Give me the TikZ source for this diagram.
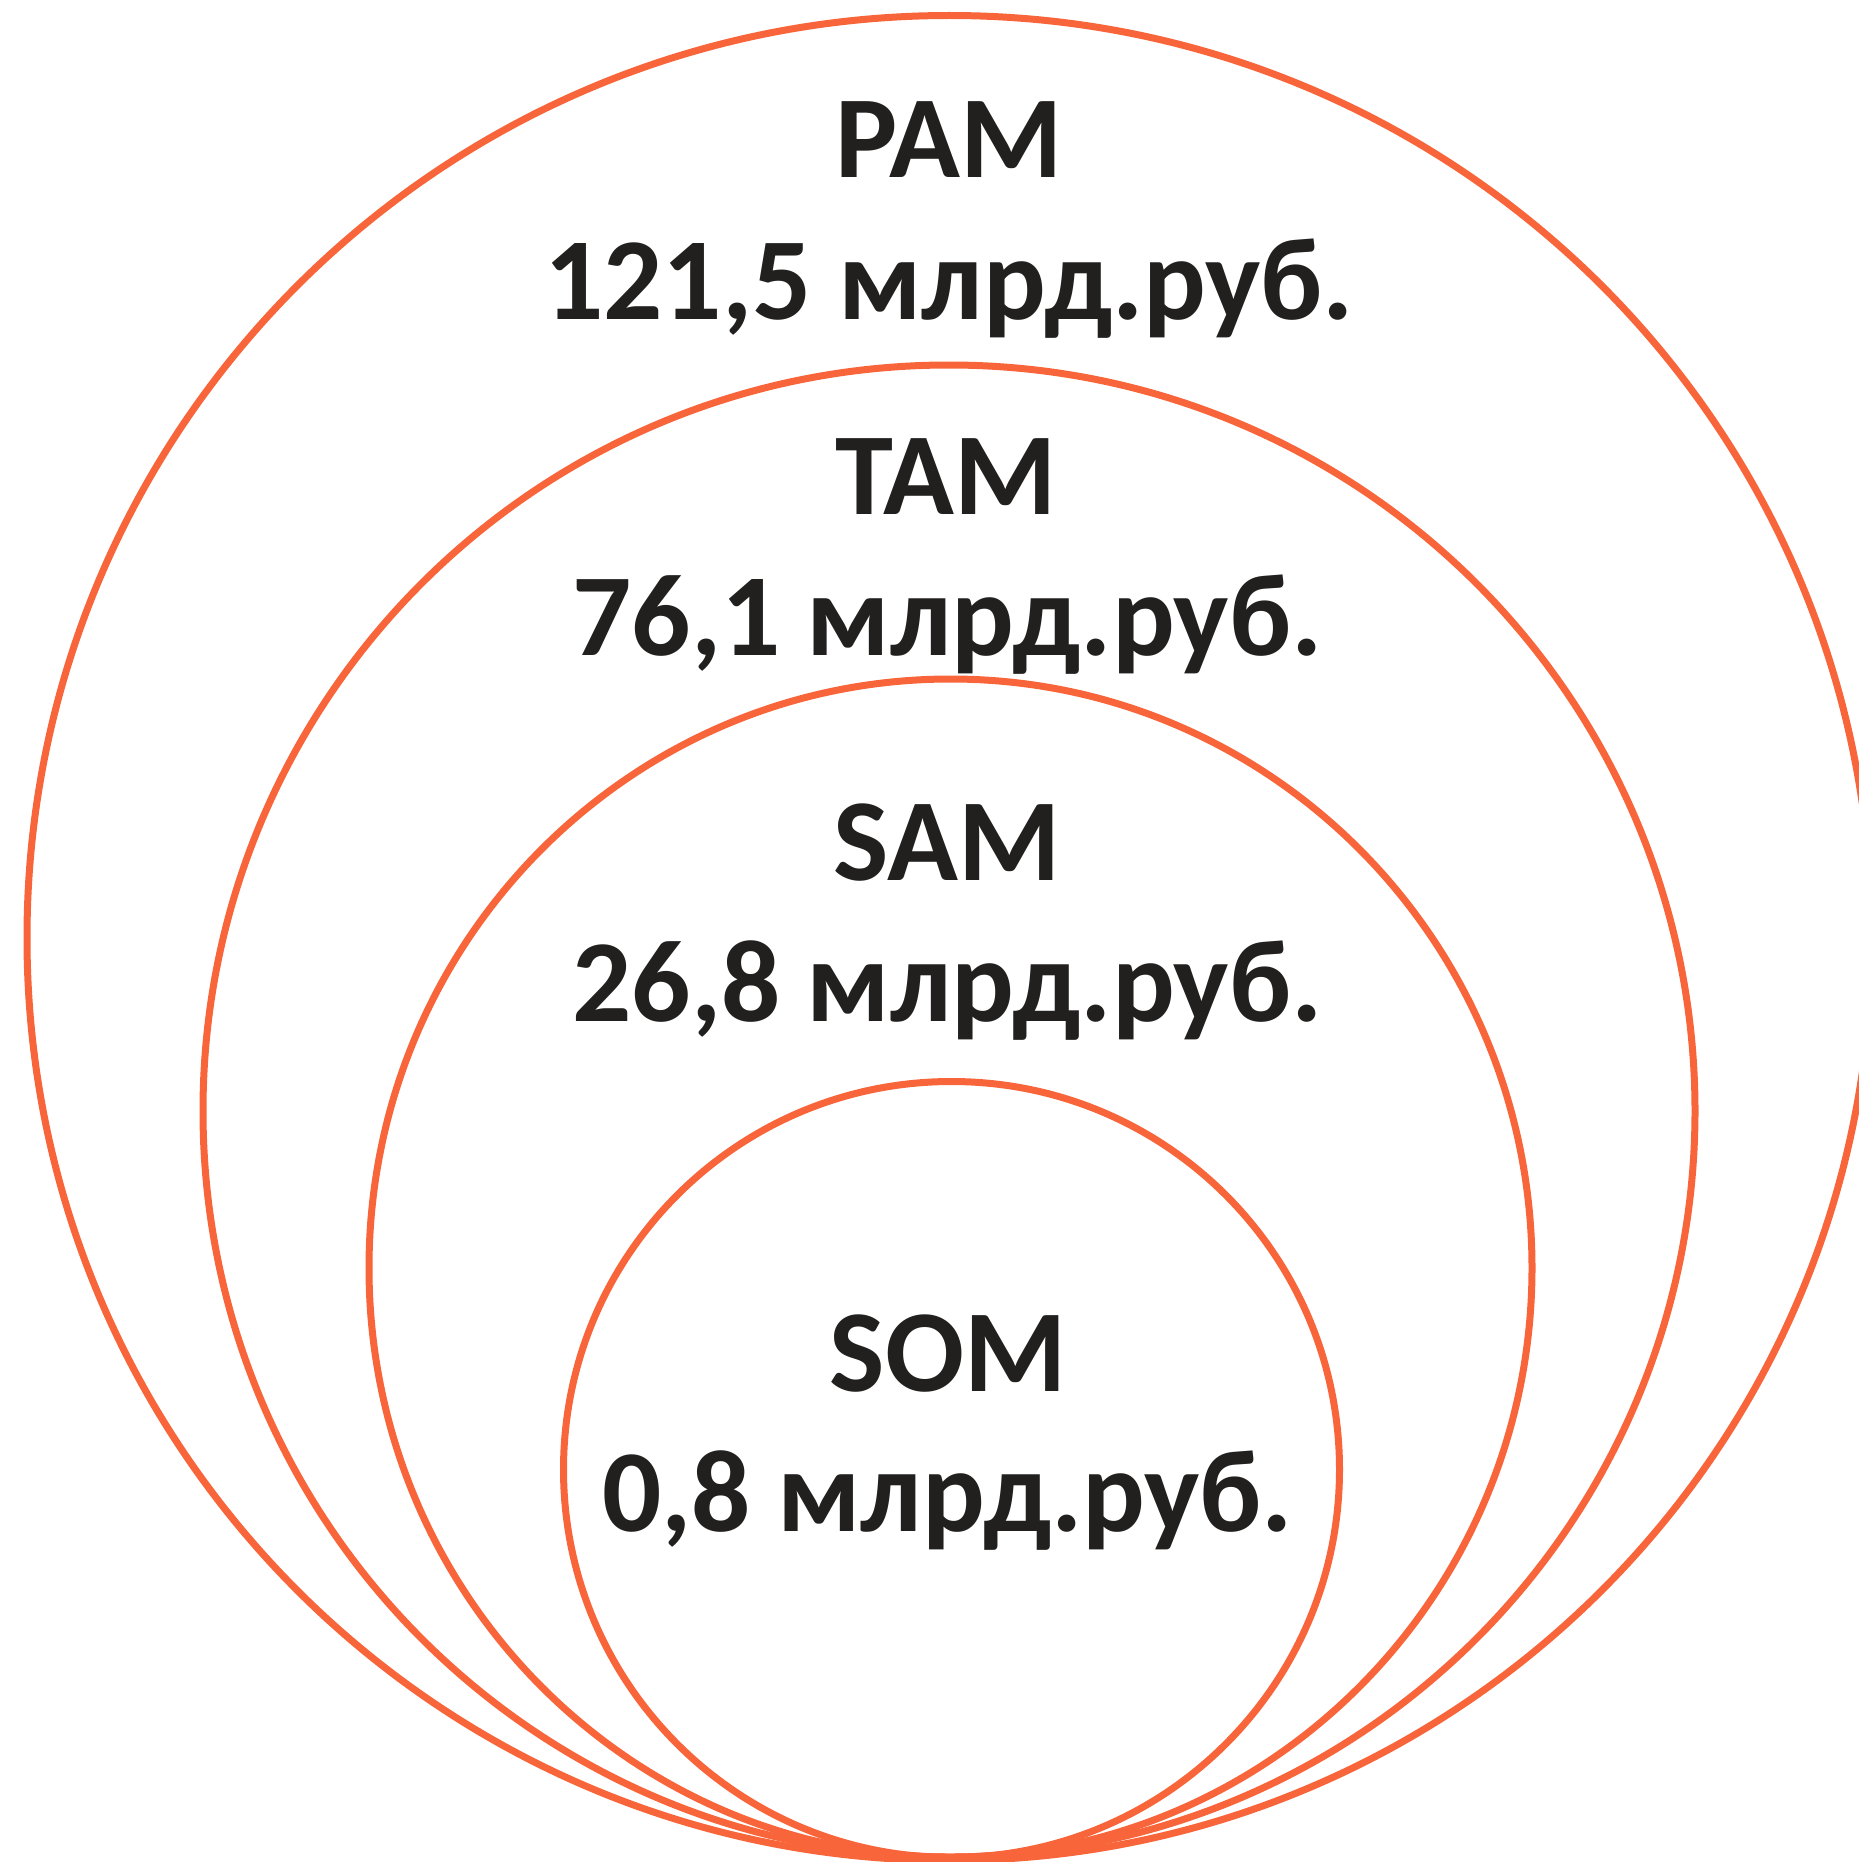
\documentclass[tikz,border=0pt]{standalone}
\usepackage{fontspec}
\setmainfont{Carlito}
\definecolor{ringorange}{RGB}{248,101,58}
\definecolor{textdark}{RGB}{34,32,30}
\begin{document}
\begin{tikzpicture}[x=1pt,y=-1pt,
  ring/.style={draw=ringorange,line width=7pt},
  lbl/.style={anchor=base,text=textdark,inner sep=0pt,
    font=\fontsize{117}{117}\selectfont\bfseries}]
\useasboundingbox (0,0) rectangle (1859,1862);
\draw[ring] (949.5,938) circle[radius=922.5pt];
\draw[ring] (949,1111) circle[radius=746pt];
\draw[ring] (950.5,1268) ellipse[x radius=581.5pt, y radius=589pt];
\draw[ring] (951.5,1469.5) circle[radius=388pt];
\node[lbl] (pam) at (949,178) {PAM};
\node[lbl] (pamv) at (949,319.5) {121,5 млрд.руб.};
\node[lbl] (tam) at (946,514.5) {TAM};
\node[lbl] (tamv) at (947.5,655.5) {76,1 млрд.руб.};
\node[lbl] (sam) at (947,880) {SAM};
\node[lbl] (samv) at (947.5,1021.5) {26,8 млрд.руб.};
\node[lbl] (som) at (948,1391) {SOM};
\node[lbl] (somv) at (947.5,1531) {0,8 млрд.руб.};
\end{tikzpicture}
\end{document}
